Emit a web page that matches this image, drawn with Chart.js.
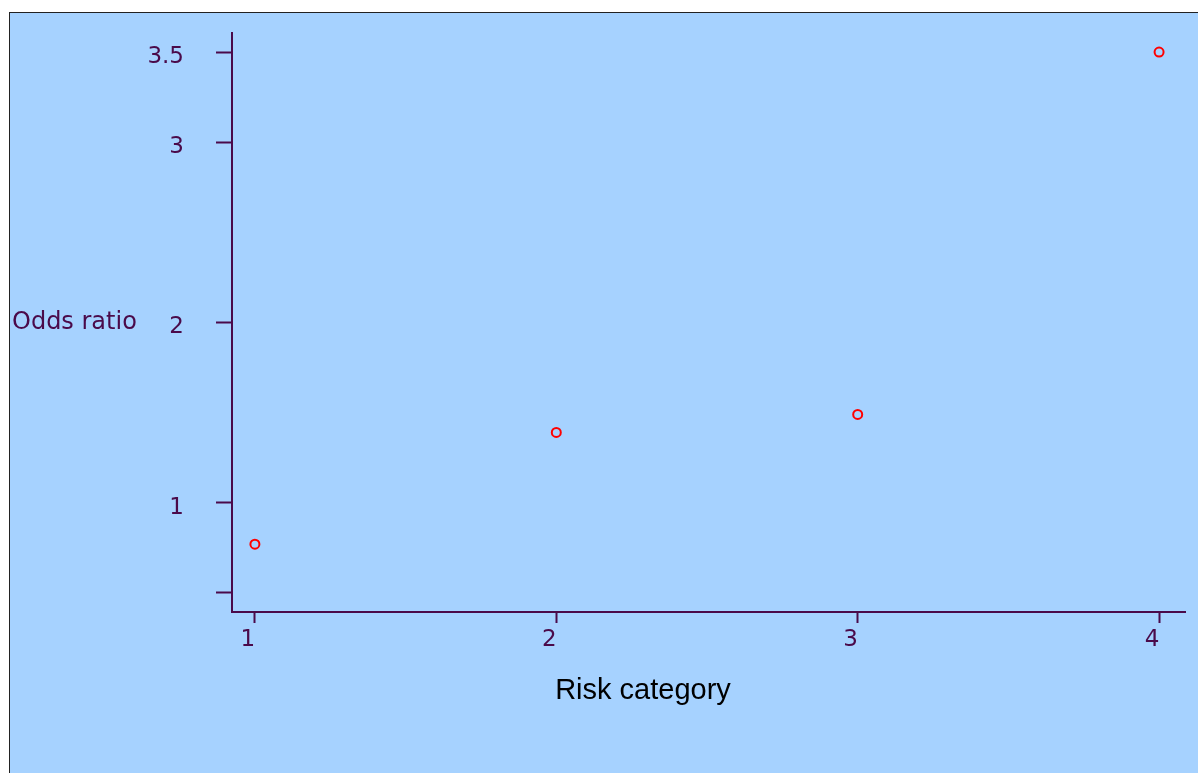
<!DOCTYPE html>
<html>
<head>
<meta charset="utf-8">
<script src="https://cdn.jsdelivr.net/npm/chart.js@4"></script>
<style>
  html, body { margin: 0; padding: 0; background: #fff; }
  #wrap {
    position: absolute; left: 9px; top: 12px;
    width: 1189px; height: 761px;
    background: #a6d2ff;
    border-left: 1px solid #222; border-top: 1px solid #222;
  }
  #grafica { display: block; }
</style>
</head>
<body>
<div id="wrap"><canvas id="grafica" width="1189" height="761"></canvas></div>
<script>
// datos
const categorias = [1, 2, 3, 4];
const oddsRatio = [0.77, 1.39, 1.49, 3.5];
const ticksY = [0.5, 1, 2, 3, 3.5];
const etiquetasY = ['', '1', '2', '3', '3.5'];
const ticksX = [1, 2, 3, 4];

const morado = '#4a0a4a';

// titulos de los ejes dibujados a mano (horizontal el de Y)
const titulos = {
  id: 'titulos',
  afterDraw(chart) {
    const ctx = chart.ctx;
    const y = chart.scales.y.getPixelForValue(2.0);
    ctx.save();
    ctx.fillStyle = morado;
    ctx.font = '24px "DejaVu Sans"';
    ctx.textAlign = 'left';
    ctx.textBaseline = 'middle';
    ctx.fillText('Odds ratio', 2, y);
    ctx.fillStyle = '#000';
    ctx.font = '29px "Liberation Sans"';
    ctx.textAlign = 'center';
    ctx.fillText('Risk category', 633, chart.chartArea.bottom + 79);
    ctx.restore();
  }
};

new Chart(document.querySelector('#grafica'), {
  type: 'scatter',
  data: {
    datasets: [{
      data: categorias.map((c, i) => ({ x: c, y: oddsRatio[i] })),
      pointStyle: 'circle',
      pointRadius: 4.5,
      pointHoverRadius: 4.5,
      borderColor: '#ff0000',
      backgroundColor: 'rgba(0,0,0,0)',
      borderWidth: 2
    }]
  },
  options: {
    responsive: false,
    animation: false,
    layout: { padding: { left: 0, top: 20, right: 14, bottom: 0 } },
    plugins: { legend: { display: false }, tooltip: { enabled: false } },
    scales: {
      x: {
        type: 'linear',
        min: 0.924, max: 4.086,
        afterBuildTicks: s => { s.ticks = ticksX.map(v => ({ value: v })); },
        afterFit: s => { s.height = 162; s.paddingLeft = 0; s.paddingRight = 0; },
        border: { color: morado, width: 2 },
        grid: { drawOnChartArea: false, tickLength: 11, tickColor: morado, tickWidth: 2 },
        ticks: {
          color: morado, font: { family: 'DejaVu Sans', size: 23 }, padding: 3,
          labelOffset: -7, maxRotation: 0,
          callback: v => String(v)
        }
      },
      y: {
        type: 'linear',
        min: 0.394, max: 3.606,
        afterBuildTicks: s => { s.ticks = ticksY.map(v => ({ value: v })); },
        afterFit: s => { s.width = 222; s.paddingTop = 0; s.paddingBottom = 0; },
        border: { color: morado, width: 2 },
        grid: { drawOnChartArea: false, tickLength: 16, tickColor: morado, tickWidth: 2 },
        ticks: {
          color: morado, font: { family: 'DejaVu Sans', size: 23 }, padding: 32,
          labelOffset: 5,
          callback: v => etiquetasY[ticksY.indexOf(v)]
        }
      }
    }
  },
  plugins: [titulos]
});
</script>
</body>
</html>
